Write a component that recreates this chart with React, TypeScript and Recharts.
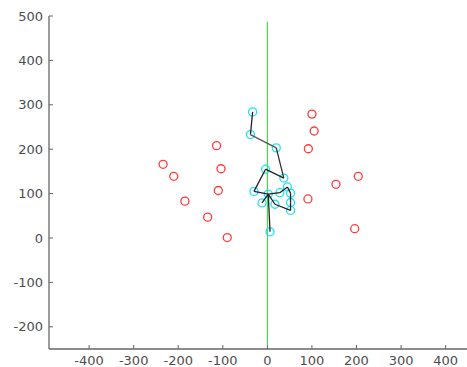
import React from 'react';
import { ScatterChart, Scatter, XAxis, YAxis } from 'recharts';

const xTicks = [-400, -300, -200, -100, 0, 100, 200, 300, 400];
const yTicks = [-200, -100, 0, 100, 200, 300, 400, 500];

// red scattered points
const redX = [-234, -210, -185, -134, -90, -114, -104, -110, 100, 105, 92, 204, 154, 91, 196];
const redY = [166, 139, 83, 47, 1, 208, 156, 107, 279, 241, 201, 139, 121, 88, 21];

// skeleton keypoints (cyan)
const kpX = [-33, -38, 20, 37, -4, -30, 2, 28, 45, 52, 52, 52, 17, -12, 6];
const kpY = [284, 233, 203, 135, 155, 105, 99, 102, 115, 101, 80, 62, 76, 79, 14];

// skeleton edges (index pairs into keypoints)
const edges: [number, number][] = [
  [0, 1], [1, 2], [2, 3], [3, 4], [4, 5], [5, 6], [6, 7], [7, 8],
  [8, 9], [9, 10], [10, 11], [11, 12], [12, 6], [6, 14], [13, 6],
];
const edgeColors = ['#222', '#555', '#333', '#222', '#222', '#222', '#222', '#222',
  '#222', '#222', '#222', '#222', '#222', '#222', '#222'];

// vertical green reference line at x = 0
const greenX = [0, 0];
const greenY = [-242, 487];

const redData = redX.map((x, i) => ({ x, y: redY[i] }));
const kpData = kpX.map((x, i) => ({ x, y: kpY[i] }));
const greenData = greenX.map((x, i) => ({ x, y: greenY[i] }));

const labelStyle = { fontFamily: 'DejaVu Sans', fontSize: 13, fill: '#4d4d4d' };

const XTick = (props: any) => {
  const { x, y, payload } = props;
  return (
    <g>
      <line x1={x} x2={x} y1={y} y2={y - 4} stroke="#666" strokeWidth={1} />
      <text x={x} y={y + 15.5} textAnchor="middle" {...labelStyle}>{payload.value}</text>
    </g>
  );
};

const YTick = (props: any) => {
  const { x, y, payload } = props;
  return (
    <g>
      <line x1={x} x2={x + 4} y1={y} y2={y} stroke="#666" strokeWidth={1} />
      <text x={x - 6} y={y} dy="0.36em" textAnchor="end" {...labelStyle}>{payload.value}</text>
    </g>
  );
};

const none = () => <g />;

const ring = (color: string) => (props: any) => {
  const { cx, cy } = props;
  return <circle cx={cx} cy={cy} r={4} fill="none" stroke={color} strokeWidth={1.3} />;
};

const redShape = ring('#ff3a3a');
const cyanShape = ring('#19e3f5');

export default function App() {
  return (
    <div style={{ position: 'absolute', left: 0, top: 0, width: 467, height: 367, background: '#fff' }}>
      <ScatterChart width={467} height={367} margin={{ top: 16, right: 0, bottom: 0, left: 0 }}>
        <XAxis
          type="number"
          dataKey="x"
          domain={[-490, 448]}
          ticks={xTicks}
          allowDataOverflow
          height={18}
          tickSize={0}
          tickMargin={0}
          tickLine={false}
          tick={<XTick />}
          axisLine={{ stroke: '#666', strokeWidth: 1.3 }}
          interval={0}
        />
        <YAxis
          type="number"
          dataKey="y"
          domain={[-250, 500]}
          ticks={yTicks}
          allowDataOverflow
          width={49}
          tickSize={0}
          tickMargin={0}
          tickLine={false}
          tick={<YTick />}
          axisLine={{ stroke: '#666', strokeWidth: 1.3 }}
          interval={0}
        />
        <Scatter data={greenData} line={{ stroke: '#2ad02a', strokeWidth: 1 }} shape={none} isAnimationActive={false} />
        <Scatter data={redData} shape={redShape} isAnimationActive={false} />
        <Scatter data={kpData} shape={cyanShape} isAnimationActive={false} />
        {edges.map(([a, b], i) => (
          <Scatter
            key={i}
            data={[kpData[a], kpData[b]]}
            line={{ stroke: edgeColors[i], strokeWidth: 1.3 }}
            shape={none}
            isAnimationActive={false}
          />
        ))}
      </ScatterChart>
    </div>
  );
}
